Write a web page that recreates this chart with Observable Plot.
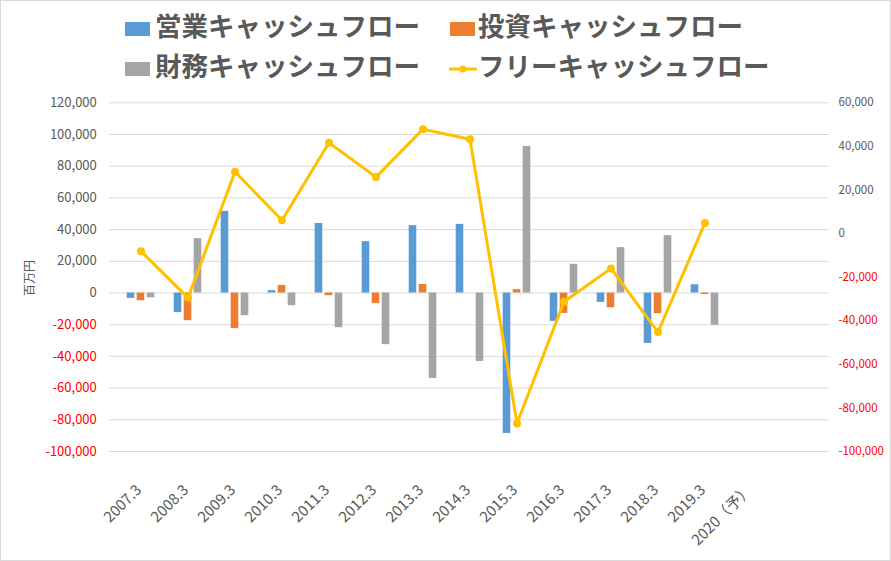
<!DOCTYPE html>
<html><head><meta charset="utf-8">
<script src="https://cdn.jsdelivr.net/npm/d3@7"></script>
<script src="https://cdn.jsdelivr.net/npm/@observablehq/plot@0.6"></script>
<style>
body{margin:0;background:#fff;}
#wrap{position:relative;width:891px;height:561px;overflow:hidden;font-family:"Noto Sans CJK JP","Noto Sans",sans-serif;background:#fff;}
#border{position:absolute;left:0;top:0;width:889px;height:559px;border:1px solid #d9d9d9;pointer-events:none;}
.sw{position:absolute;width:25px;height:14px;}
.t{position:absolute;font-size:26.5px;line-height:1;font-weight:700;color:#595959;white-space:nowrap;}
#chart{position:absolute;left:0;top:90px;}
#ylab{position:absolute;left:28px;top:278px;transform:translate(-50%,-50%) rotate(-90deg);font-size:12px;color:#595959;white-space:nowrap;}
</style></head>
<body>
<div id="wrap">
  <div id="legend"></div>
  <div id="chart"></div>
  <div id="ylab">百万円</div>
  <div id="border"></div>
</div>
<script>
const years = ["2007.3","2008.3","2009.3","2010.3","2011.3","2012.3","2013.3","2014.3","2015.3","2016.3","2017.3","2018.3","2019.3","2020（予）"];
const operating = [-3400,-12400,51500,1500,43900,32400,42500,43300,-88600,-17900,-5900,-31800,5200,null];
const investing = [-4900,-17500,-22500,4800,-1700,-6700,5400,0,2100,-12900,-9300,-13000,-1000,null];
const financing = [-3000,34300,-14300,-8000,-21900,-32600,-53900,-43200,92500,18100,28600,36200,-20400,null];
const freeCF = [-8100,-29500,28400,6100,41700,25900,47900,43300,-87100,-31300,-16000,-45200,4900,null];
const seriesNames = ["営業キャッシュフロー","投資キャッシュフロー","財務キャッシュフロー","フリーキャッシュフロー"];
const colors = ["#5B9BD5","#ED7D31","#A5A5A5","#FFC000"];
const leftTicks = [-100000,-80000,-60000,-40000,-20000,0,20000,40000,60000,80000,100000,120000];
const rightTicks = [-100000,-80000,-60000,-40000,-20000,0,20000,40000,60000];

// right axis (-100000..60000) mapped onto left axis (-100000..120000)
const toLeft = v => -100000 + (v + 100000) * (220000 / 160000);
const fmt = v => v.toLocaleString("en-US");

const rows = years.map((year, i) => ({year, op: operating[i], inv: investing[i], fin: financing[i], free: freeCF[i]}));
const domain = [...years, " "];
const grey = "#595959", red = "#FF0000";

// legend
const legend = document.getElementById("legend");
const items = [
  {sx:125, tx:155, row:0, i:0}, {sx:450, tx:478, row:0, i:1},
  {sx:125, tx:155, row:1, i:2}, {sx:449, tx:478, row:1, i:3}
];
const rowSw = [21.8, 61.8], rowTx = [11.6, 52];
for (const it of items) {
  if (it.i < 3) {
    const s = document.createElement("div");
    s.className = "sw";
    s.style.left = it.sx + "px"; s.style.top = rowSw[it.row] + "px";
    s.style.background = colors[it.i];
    legend.appendChild(s);
  } else {
    const s = document.createElementNS("http://www.w3.org/2000/svg", "svg");
    s.setAttribute("width", 28); s.setAttribute("height", 14);
    s.style.position = "absolute"; s.style.left = it.sx + "px"; s.style.top = rowSw[it.row] + "px";
    s.innerHTML = `<line x1="0" x2="28" y1="7" y2="7" stroke="${colors[3]}" stroke-width="3"/><circle cx="14" cy="7" r="3.5" fill="${colors[3]}"/>`;
    legend.appendChild(s);
  }
  const t = document.createElement("div");
  t.className = "t";
  t.style.left = it.tx + "px"; t.style.top = rowTx[it.row] + "px";
  t.textContent = seriesNames[it.i];
  legend.appendChild(t);
}

const bw = 48, w = 8.6, g = 1.4;
const c = bw / 2;
const ins = k => ({insetLeft: c - w*1.5 - g + k*(w+g), insetRight: bw - (c - w*1.5 - g + k*(w+g) + w)});
const present = rows.filter(d => d.free != null);

const chart = Plot.plot({
  width: 891,
  height: 471,
  marginTop: 12.3,
  marginBottom: 110,
  marginLeft: 109.3,
  marginRight: 62,
  style: {fontFamily: '"Noto Sans CJK JP","Noto Sans",sans-serif', background: "transparent"},
  x: {type: "band", domain, padding: 0, axis: null},
  y: {domain: [-100000, 120000], axis: null},
  marks: [
    Plot.gridY(leftTicks, {stroke: "#d9d9d9", strokeOpacity: 1}),
    Plot.barY(rows.filter(d => d.op != null), {x: "year", y: "op", fill: colors[0], ...ins(0)}),
    Plot.barY(rows.filter(d => d.inv != null), {x: "year", y: "inv", fill: colors[1], ...ins(1)}),
    Plot.barY(rows.filter(d => d.fin != null), {x: "year", y: "fin", fill: colors[2], ...ins(2)}),
    Plot.line(present, {x: "year", y: d => toLeft(d.free), stroke: colors[3], strokeWidth: 3}),
    Plot.dot(present, {x: "year", y: d => toLeft(d.free), fill: colors[3], r: 4}),
    // left axis labels
    Plot.text(leftTicks.filter(t => t >= 0), {y: d => d, text: fmt, frameAnchor: "left", textAnchor: "end", dx: -13, fill: grey, fontSize: 13}),
    Plot.text(leftTicks.filter(t => t < 0), {y: d => d, text: fmt, frameAnchor: "left", textAnchor: "end", dx: -13, fill: red, fontSize: 13}),
    // right axis labels
    Plot.text(rightTicks.filter(t => t >= 0), {y: d => toLeft(d), text: fmt, frameAnchor: "right", textAnchor: "start", dx: 9, fill: grey, fontSize: 11.5}),
    Plot.text(rightTicks.filter(t => t < 0), {y: d => toLeft(d), text: fmt, frameAnchor: "right", textAnchor: "start", dx: 9, fill: red, fontSize: 11.5}),
    // category labels
    Plot.text(years, {x: d => d, text: d => d, frameAnchor: "bottom", rotate: -45, textAnchor: "end", lineAnchor: "middle", dx: -2, dy: 36, fill: grey, fontSize: 15})
  ]
});
document.getElementById("chart").appendChild(chart);
</script>
</body></html>
